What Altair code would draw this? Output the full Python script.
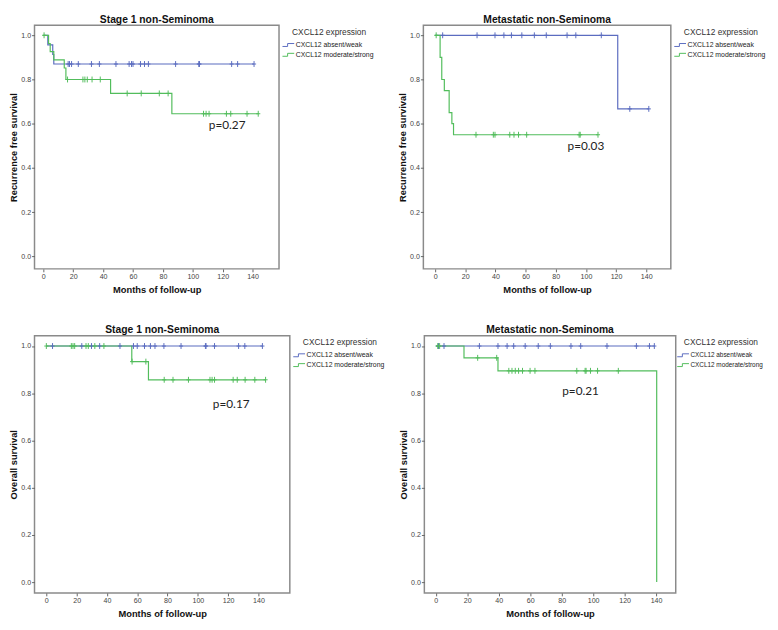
import altair as alt
import pandas as pd

GROUPS = ["CXCL12 absent/weak", "CXCL12 moderate/strong"]
COLORS = ["#5b6cc0", "#52bd5c"]

# ---------------- Panel A: Stage 1 non-Seminoma, recurrence free survival
a_weak_t = [0, 3.0, 6.3, 7.0]
a_weak_s = [1.0, 0.957, 0.913, 0.87]
a_weak_end = 141.0
a_weak_cens = [16.6, 17.5, 18.9, 23.4, 32.2, 37.5, 48.6, 57.4, 59.0, 60.0, 65.0, 67.7,
               70.3, 88.5, 104.0, 104.5, 126.0, 130.0, 141.0]
a_strong_t = [0, 3.5, 4.6, 7.0, 14.0, 15.1, 45.0, 86.0]
a_strong_s = [1.0, 0.963, 0.926, 0.889, 0.852, 0.80, 0.737, 0.645]
a_strong_end = 143.8
a_strong_cens = [0.5, 16.2, 26.5, 27.8, 29.4, 32.6, 38.1, 56.1, 65.5, 77.6, 83.5, 107.2,
                 108.9, 110.9, 122.5, 125.4, 136.3, 143.8]

# ---------------- Panel B: Metastatic non-Seminoma, recurrence free survival
b_weak_t = [0, 121.1]
b_weak_s = [1.0, 0.667]
b_weak_end = 141.7
b_weak_cens = [5.0, 27.8, 39.7, 45.6, 50.6, 57.5, 65.8, 73.7, 87.5, 93.3, 110.2, 129.1, 141.7]
b_strong_t = [0, 3.3, 4.4, 6.1, 9.3, 11.1, 12.2]
b_strong_s = [1.0, 0.9, 0.8, 0.75, 0.65, 0.6, 0.55]
b_strong_end = 108.0
b_strong_cens = [0.7, 27.1, 38.6, 39.7, 49.5, 52.3, 55.3, 60.7, 95.5, 96.2, 108.0]

# ---------------- Panel C: Stage 1 non-Seminoma, overall survival
c_weak_t = [0]
c_weak_s = [1.0]
c_weak_end = 142.6
c_weak_cens = [4.1, 23.4, 29.8, 35.2, 48.6, 57.5, 60.0, 64.8, 68.7, 71.7, 77.6, 88.9, 105.0,
               105.4, 111.0, 126.9, 131.0, 142.6]
c_strong_t = [0, 56.4, 67.4]
c_strong_s = [1.0, 0.934, 0.857]
c_strong_end = 144.7
c_strong_cens = [0.0, 16.5, 17.6, 18.7, 26.2, 27.7, 32.0, 38.0, 56.6, 65.7, 77.8, 83.6, 93.8,
                 108.0, 109.4, 111.0, 123.3, 126.0, 131.2, 137.6, 144.7]

# ---------------- Panel D: Metastatic non-Seminoma, overall survival
d_weak_t = [0]
d_weak_s = [1.0]
d_weak_end = 138.9
d_weak_cens = [1.7, 5.2, 27.7, 39.5, 45.3, 49.5, 56.8, 65.1, 72.8, 85.9, 92.1, 108.8, 127.5,
               135.8, 138.9]
d_strong_t = [0, 17.9, 39.5, 140.4]
d_strong_s = [1.0, 0.95, 0.895, 0.0]
d_strong_end = 140.4
d_strong_cens = [1.2, 2.4, 26.6, 38.7, 46.4, 48.4, 50.5, 52.6, 55.1, 59.9, 63.0, 89.6, 94.9,
                 95.5, 98.3, 102.8, 116.0]

titles = ["Stage 1 non-Seminoma", "Metastatic non-Seminoma",
          "Stage 1 non-Seminoma", "Metastatic non-Seminoma"]
ytitles = ["Recurrence free survival", "Recurrence free survival",
           "Overall survival", "Overall survival"]
p_labels = ["p=0.27", "p=0.03", "p=0.17", "p=0.21"]
p_x = [123, 100, 122, 92]
p_y = [0.594, 0.50, 0.756, 0.81]

x_ticks = [0, 20, 40, 60, 80, 100, 120, 140]
y_ticks = [0.0, 0.2, 0.4, 0.6, 0.8, 1.0]

PLUS = "M0,-1L0,1M-0.7,0L0.7,0"
STEP = "M-1.6,0.4L-0.2,0.4L-0.2,-0.4L1.6,-0.4"
FONT = "Liberation Sans"


def step_value(ts, ss, t):
    v = ss[0]
    for ti, si in zip(ts, ss):
        if ti <= t:
            v = si
    return v


def build(weak, strong):
    lrows, crows = [], []
    for g, (ts, ss, end, cens) in zip(GROUPS, [weak, strong]):
        k = 0
        for ti, si in zip(ts, ss):
            lrows.append({"t": ti, "s": si, "group": g, "o": k}); k += 1
        if end > ts[-1]:
            lrows.append({"t": end, "s": ss[-1], "group": g, "o": k})
        for c in cens:
            crows.append({"t": c, "s": step_value(ts, ss, c), "group": g})
    return pd.DataFrame(lrows), pd.DataFrame(crows)


AX = dict(grid=False, domain=False, labelFont=FONT, labelFontSize=7.2, labelColor="#444",
          tickColor="#666", tickSize=3, labelPadding=1, titleFont=FONT, titleFontSize=9.5,
          titleFontWeight="bold", titleColor="#111")


def panel(i, weak, strong, w, h, xdom, ydom, lab_size=7, leg_off=2):
    ldf, cdf = build(weak, strong)
    pdf = pd.DataFrame({"t": [p_x[i]], "s": [p_y[i]], "label": [p_labels[i]]})
    x = alt.X("t:Q", scale=alt.Scale(domain=xdom, nice=False, zero=False),
              axis=alt.Axis(values=x_ticks, title="Months of follow-up", titlePadding=5, **AX))
    y = alt.Y("s:Q", scale=alt.Scale(domain=ydom, nice=False, zero=False),
              axis=alt.Axis(values=y_ticks, format=".1f", title=ytitles[i], titlePadding=2, **AX))
    color = alt.Color("group:N", scale=alt.Scale(domain=GROUPS, range=COLORS),
                      legend=alt.Legend(title="CXCL12 expression", orient="right", offset=leg_off,
                                        titleFont=FONT, titleFontSize=8.5, titleFontWeight="normal",
                                        titleColor="#333", titleAnchor="middle", titlePadding=4,
                                        labelFont=FONT, labelFontSize=lab_size, labelColor="#222",
                                        labelOffset=3, symbolType=STEP, symbolSize=56,
                                        symbolStrokeWidth=1, symbolFillColor="transparent",
                                        rowPadding=2, padding=3))
    line = alt.Chart(ldf).mark_line(interpolate="step-after", strokeWidth=1.2).encode(
        x=x, y=y, color=color, order="o:Q")
    pts = alt.Chart(cdf).mark_point(shape=PLUS, size=36, filled=False, strokeWidth=1,
                                    opacity=1).encode(x=x, y=y, color=color)
    txt = alt.Chart(pdf).mark_text(font="Lato", fontSize=12, color="#222").encode(
        x=x, y=y, text="label:N")
    return alt.layer(line, pts, txt).properties(
        width=w, height=h,
        title=alt.TitleParams(titles[i], font=FONT, fontSize=10.5, fontWeight="bold",
                              color="#111", anchor="middle", offset=0))


p1 = panel(0, (a_weak_t, a_weak_s, a_weak_end, a_weak_cens),
           (a_strong_t, a_strong_s, a_strong_end, a_strong_cens), 249, 248, [-5.9, 157.7], [-0.057, 1.045])
p2 = panel(1, (b_weak_t, b_weak_s, b_weak_end, b_weak_cens),
           (b_strong_t, b_strong_s, b_strong_end, b_strong_cens), 252, 248, [-7.8, 156.3], [-0.057, 1.045])
p3 = panel(2, (c_weak_t, c_weak_s, c_weak_end, c_weak_cens),
           (c_strong_t, c_strong_s, c_strong_end, c_strong_cens), 260, 262, [-7.8, 160.7], [-0.046, 1.044])
p4 = panel(3, (d_weak_t, d_weak_s, d_weak_end, d_weak_cens),
           (d_strong_t, d_strong_s, d_strong_end, d_strong_cens), 256, 262, [-7.3, 152.5], [-0.046, 1.044],
           lab_size=6.5, leg_off=0)

row1 = alt.hconcat(p1, p2, spacing=19).resolve_scale(color="independent")
row2 = alt.hconcat(p3, p4, spacing=9).resolve_scale(color="independent")

chart = alt.vconcat(row1, row2, spacing=29).resolve_scale(
    color="independent").properties(
    padding={"left": 0, "top": 0, "right": 0, "bottom": 0}, background="white"
).configure_view(stroke="#8a8a8a", strokeWidth=1.5)

chart.save("out.html", embed_options={"renderer": "svg", "actions": False})
